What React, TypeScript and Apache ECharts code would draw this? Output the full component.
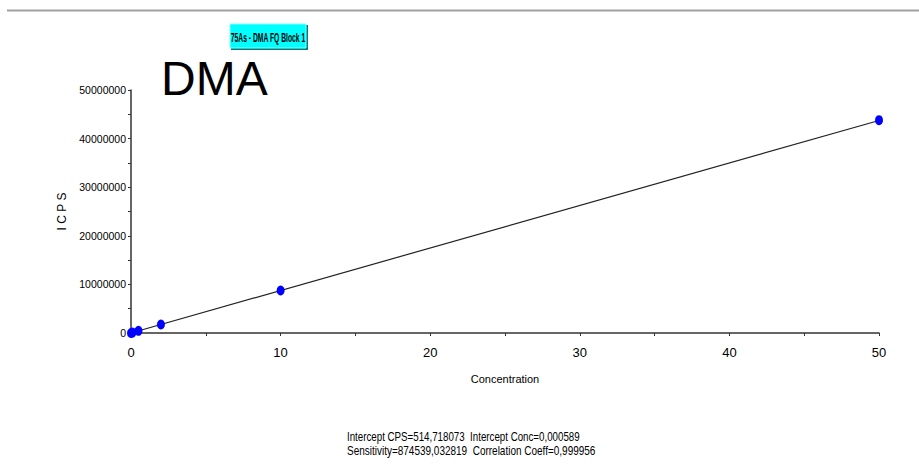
import React, { useEffect, useRef } from "react";
import * as echarts from "echarts";

const titleText = "75As - DMA FQ Block 1";
const bigLabel = "DMA";
const xAxisName = "Concentration";
const yAxisName = "I C P S";
const concentrations = [0, 0.1, 0.5, 2, 10, 50];
const cpsValues = [500, 90000, 440000, 1750000, 8750000, 43800000];
const fitLine: [number, number][] = [
  [0, 515],
  [50, 43727466],
];
const statsLines = [
  "Intercept CPS=514,718073  Intercept Conc=0,000589",
  "Sensitivity=874539,032819  Correlation Coeff=0,999956",
];

const SANS = "'Liberation Sans', Arial, sans-serif";

export default function App() {
  const ref = useRef<HTMLDivElement>(null);
  useEffect(() => {
    if (!ref.current) return;
    const chart = echarts.init(ref.current, undefined, { renderer: "svg" });
    chart.setOption({
      animation: false,
      backgroundColor: "#ffffff",
      grid: { left: 131, top: 90, right: 40, bottom: 136, containLabel: false },
      xAxis: {
        type: "value",
        min: 0,
        max: 50,
        interval: 10,
        name: xAxisName,
        nameLocation: "middle",
        nameGap: 40,
        nameTextStyle: { fontFamily: SANS, fontSize: 11, color: "#000" },
        axisLine: { show: true, onZero: false, lineStyle: { color: "#333", width: 1.5 } },
        axisTick: { show: true, length: 3, lineStyle: { color: "#333" } },
        minorTick: { show: true, splitNumber: 2, length: 3, lineStyle: { color: "#333" } },
        splitLine: { show: false },
        axisLabel: { fontFamily: SANS, fontSize: 13, color: "#000", margin: 13, formatter: (v: number) => String(v) },
      },
      yAxis: {
        type: "value",
        min: 0,
        max: 50000000,
        interval: 10000000,
        name: yAxisName,
        nameLocation: "middle",
        nameGap: 54,
        nameRotate: 90,
        nameTextStyle: { fontFamily: SANS, fontSize: 12, color: "#000" },
        axisLine: { show: true, onZero: false, lineStyle: { color: "#333", width: 1.5 } },
        axisTick: { show: true, length: 3, lineStyle: { color: "#333" } },
        minorTick: { show: true, splitNumber: 2, length: 3, lineStyle: { color: "#333" } },
        splitLine: { show: false },
        axisLabel: { fontFamily: SANS, fontSize: 10.5, color: "#000", margin: 5, formatter: (v: number) => String(v) },
      },
      series: [
        {
          type: "line",
          data: fitLine,
          symbol: "none",
          lineStyle: { color: "#222", width: 1.2 },
          z: 2,
        },
        {
          type: "scatter",
          data: concentrations.map((c, i) => [c, cpsValues[i]]),
          symbol: "circle",
          symbolSize: [8, 10],
          itemStyle: { color: "#0000ff", opacity: 1 },
          z: 3,
        },
      ],
      graphic: [
        {
          type: "line",
          shape: { x1: 7, y1: 10.5, x2: 919, y2: 10.5 },
          style: { stroke: "#a0a0a0", lineWidth: 2 },
        },
        {
          type: "rect",
          shape: { x: 231, y: 25, width: 77, height: 25 },
          style: { fill: "#007f7f" },
        },
        {
          type: "rect",
          shape: { x: 230, y: 24, width: 76, height: 24 },
          style: { fill: "#00ffff", stroke: "#80ffff", lineWidth: 1 },
        },
        {
          type: "text",
          x: 268,
          y: 36.5,
          scaleX: 0.5,
          style: {
            text: titleText,
            fontFamily: SANS,
            fontSize: 13.5,
            fontWeight: "bold",
            fill: "#000",
            align: "center",
            verticalAlign: "middle",
          },
        },
        {
          type: "text",
          x: 161,
          y: 78,
          style: {
            text: bigLabel,
            fontFamily: SANS,
            fontSize: 48,
            fill: "#000",
            align: "left",
            verticalAlign: "middle",
          },
        },
        {
          type: "text",
          x: 347,
          y: 437,
          scaleX: 0.78,
          style: {
            text: statsLines[0],
            fontFamily: SANS,
            fontSize: 12.5,
            fill: "#000",
            align: "left",
            verticalAlign: "middle",
          },
        },
        {
          type: "text",
          x: 347,
          y: 451,
          scaleX: 0.8,
          style: {
            text: statsLines[1],
            fontFamily: SANS,
            fontSize: 12.5,
            fill: "#000",
            align: "left",
            verticalAlign: "middle",
          },
        },
      ],
    });
    return () => chart.dispose();
  }, []);
  return (
    <div
      ref={ref}
      style={{ position: "fixed", left: 0, top: 0, width: 919, height: 469 }}
    />
  );
}
